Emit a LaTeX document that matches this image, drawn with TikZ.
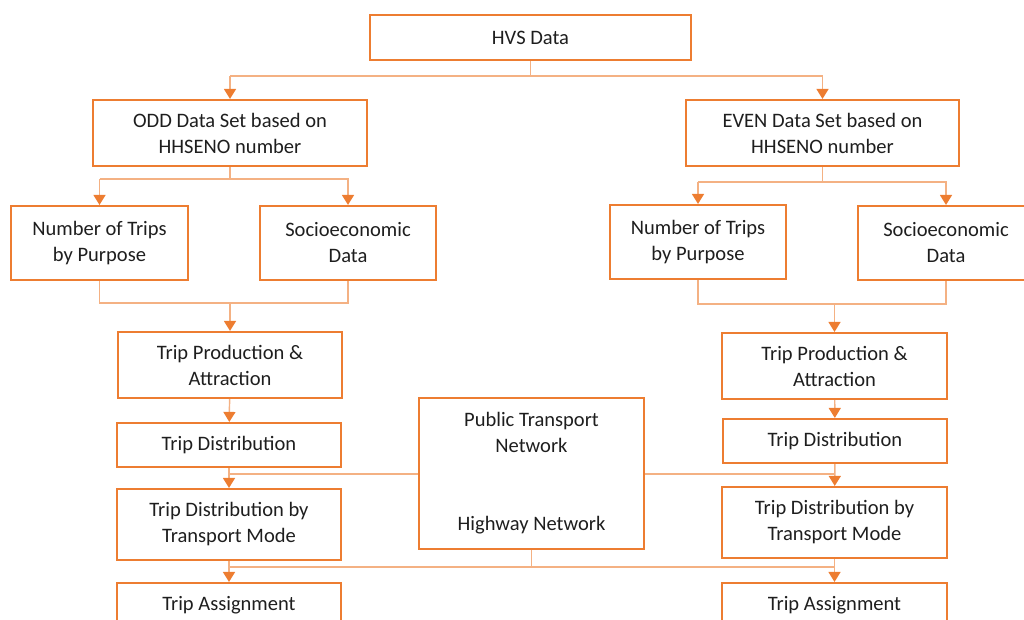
\documentclass[tikz,border=0pt]{standalone}
\usepackage{fontspec}
\setmainfont{Carlito}
\usetikzlibrary{arrows.meta}
\definecolor{boxOrange}{HTML}{ED7D31}
\definecolor{wireOrange}{HTML}{F4B183}
\definecolor{txtGray}{HTML}{1E1E1E}

\begin{document}
\begin{tikzpicture}[x=0.75pt, y=-0.75pt,
    box/.style={draw=boxOrange, line width=1.6pt, inner sep=0pt, align=center,
        text=txtGray, font=\fontsize{15.4}{19.5}\selectfont},
    wire/.style={draw=wireOrange, line width=1.1pt},
    link/.style={wire, -{Triangle[length=7.5pt, width=9pt, color=boxOrange]}}]
        \clip (0,0) rectangle (1024,619);

        % Top level
        \node[box, minimum width=240.75pt, minimum height=33.75pt] (hvs) at (530.5,37.5) {HVS Data};
        \node[box, minimum width=205.5pt, minimum height=49.5pt] (odd) at (230,133) {ODD Data Set based on\\HHSENO number};
        \node[box, minimum width=204.75pt, minimum height=49.5pt] (even) at (822.5,133) {EVEN Data Set based on\\HHSENO number};

        % Inputs
        \node[box, minimum width=132.75pt, minimum height=55.5pt] (numL) at (99.5,243) {Number of Trips\\by Purpose};
        \node[box, minimum width=132pt, minimum height=55.5pt] (socL) at (348,243) {Socioeconomic\\Data};
        \node[box, minimum width=132pt, minimum height=55.5pt] (numR) at (698,242) {Number of Trips\\by Purpose};
        \node[box, minimum width=132pt, minimum height=55.5pt] (socR) at (946,243) {Socioeconomic\\Data};

        % Left chain
        \node[box, minimum width=168pt, minimum height=49.5pt] (tpL) at (230,365) {Trip Production \&\\Attraction};
        \node[box, minimum width=168pt, minimum height=33pt] (tdL) at (229,445) {Trip Distribution};
        \node[box, minimum width=168pt, minimum height=53.25pt] (tdmL) at (229,524.5) {Trip Distribution by\\Transport Mode};
        \node[box, minimum width=168pt, minimum height=33pt] (taL) at (229,605) {Trip Assignment};

        % Right chain
        \node[box, minimum width=168.75pt, minimum height=49.5pt] (tpR) at (834.5,366) {Trip Production \&\\Attraction};
        \node[box, minimum width=168pt, minimum height=33pt] (tdR) at (835,441) {Trip Distribution};
        \node[box, minimum width=168.75pt, minimum height=53.25pt] (tdmR) at (834.5,522.5) {Trip Distribution by\\Transport Mode};
        \node[box, minimum width=168.75pt, minimum height=33pt] (taR) at (834.5,605) {Trip Assignment};

        % Networks
        \node[box, minimum width=168.75pt, minimum height=113.25pt] (net) at (531.5,473.5) {Public Transport\\Network\\[39pt]Highway Network};

        % Split of HVS data
        \draw[wire] (hvs.south) -- (hvs.south |- 0,76);
        \draw[link] (odd.north |- 0,76) -- (odd.north);
        \draw[link] (odd.north |- 0,76) -- (even.north |- 0,76) -- (even.north);

        % Split of data sets
        \draw[wire] (odd.south) -- (odd.south |- 0,179);
        \draw[link] (numL.north |- 0,179) -- (numL.north);
        \draw[link] (numL.north |- 0,179) -- (socL.north |- 0,179) -- (socL.north);
        \draw[wire] (even.south) -- (even.south |- 0,182);
        \draw[link] (numR.north |- 0,182) -- (numR.north);
        \draw[link] (numR.north |- 0,182) -- (socR.north |- 0,182) -- (socR.north);

        % Merge into trip production
        \draw[wire] (numL.south) |- (socL.south |- 0,303) -- (socL.south);
        \draw[link] (tpL.north |- 0,303) -- (tpL.north);
        \draw[wire] (numR.south) |- (socR.south |- 0,304) -- (socR.south);
        \draw[link] (tpR.north |- 0,304) -- (tpR.north);

        % Model steps
        \draw[link] (tpL) -- (tdL);
        \draw[link] (tdL) -- (tdmL);
        \draw[link] (tdmL) -- (taL);
        \draw[link] (tpR) -- (tdR);
        \draw[link] (tdR) -- (tdmR);
        \draw[link] (tdmR) -- (taR);

        % Network inputs
        \draw[wire] (net.west |- 0,474) -- (tdL.south |- 0,474);
        \draw[wire] (net.east |- 0,474) -- (tdR.south |- 0,474);
        \draw[wire] (net.south) -- (net.south |- 0,567);
        \draw[wire] (tdmL.south |- 0,567) -- (tdmR.south |- 0,567);
    \end{tikzpicture}
\end{document}
